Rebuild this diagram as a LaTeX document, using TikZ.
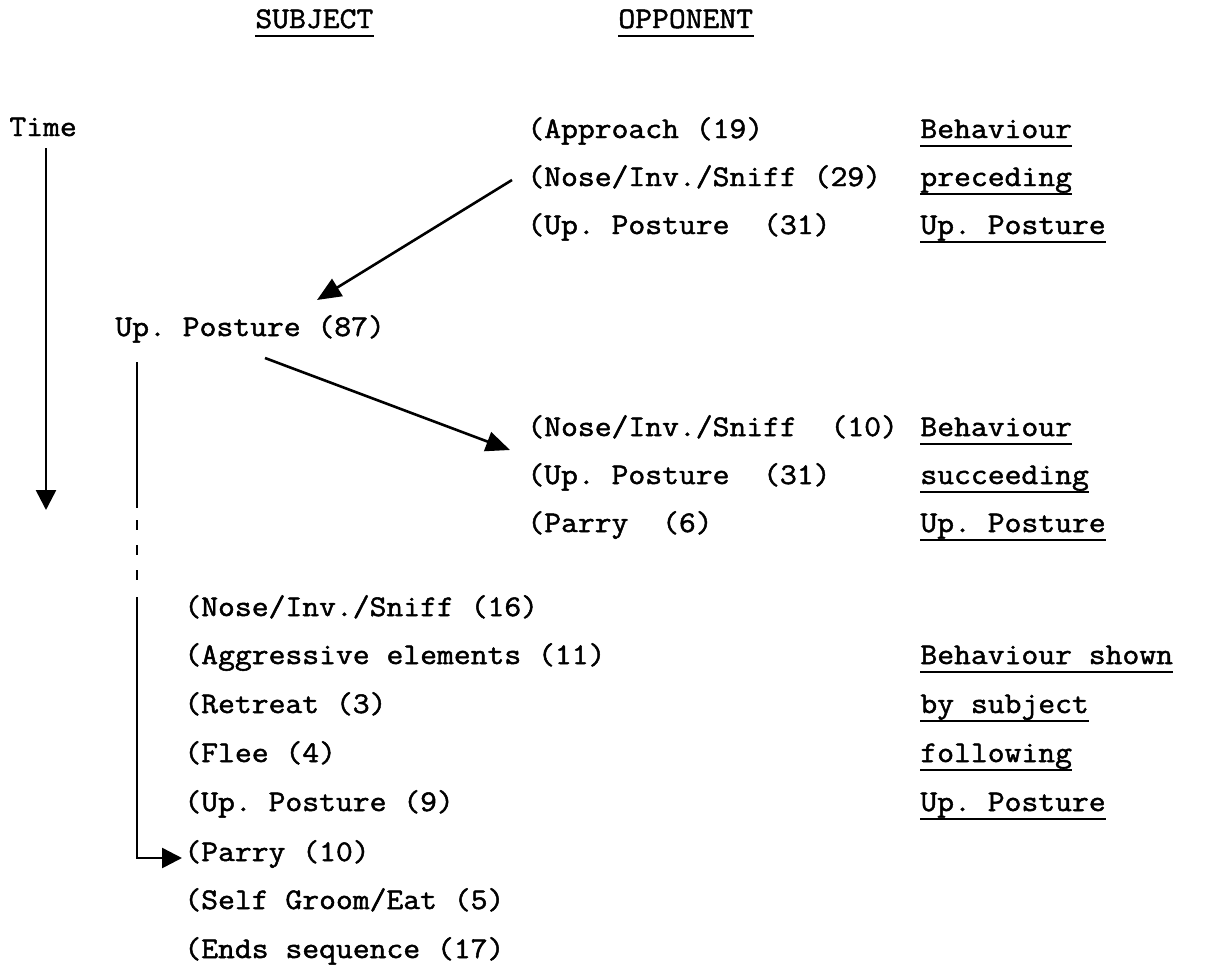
\documentclass[tikz,border=0pt]{standalone}
\usepackage{fontspec}
\usetikzlibrary{arrows.meta,calc}
\newfontfamily\tw{Latin Modern Mono}[FakeStretch=1.09,FakeBold=1.6]
\begin{document}
\begin{tikzpicture}[x=0.5pt,y=-0.5pt,
  txt/.style={font=\tw\fontsize{15pt}{17pt}\selectfont\frenchspacing, inner sep=0pt, anchor=base west},
  ul/.style={line width=1.3pt},
  conn/.style={line width=1.3pt},
  arr/.style={conn, -{Triangle[length=12pt,width=10pt]}},
  arrs/.style={conn, -{Triangle[length=10pt,width=10pt]}}]
\useasboundingbox[fill=white] (0,0) rectangle (1227,965);
% headings
\node[txt] (subj) at (255,28) {SUBJECT};
\node[txt] (opp) at (618,28) {OPPONENT};
\foreach \n in {subj,opp} \draw[ul] ([yshift=-4pt]\n.base west) -- ([yshift=-4pt]\n.base east);
% time
\node[txt] (time) at (9,136) {Time};
\coordinate (timeend) at (46,510);
\draw[arrs] ([shift={(37,12)}]time.base west) -- (timeend);
% preceding block
\node[txt] (appr) at (527,138) {(Approach (19)};
\node[txt] (nose29) at (527,186) {(Nose/Inv./Sniff (29)};
\node[txt] (up31a) at (527,234) {(Up. Posture~ (31)};
\node[txt] (r1a) at (920,138) {Behaviour};
\node[txt] (r1b) at (920,186) {preceding};
\node[txt] (r1c) at (920,234) {Up. Posture};
% subject
\node[txt] (up87) at (115,336) {Up. Posture (87)};
% succeeding block
\node[txt] (nose10) at (527,436) {(Nose/Inv./Sniff~ (10)};
\node[txt] (up31b) at (527,484) {(Up. Posture~ (31)};
\node[txt] (parry6) at (527,532) {(Parry~ (6)};
\node[txt] (r2a) at (920,436) {Behaviour};
\node[txt] (r2b) at (920,484) {succeeding};
\node[txt] (r2c) at (920,532) {Up. Posture};
% following block
\node[txt] (f1) at (184,616) {(Nose/Inv./Sniff (16)};
\node[txt] (f2) at (184,664) {(Aggressive elements (11)};
\node[txt] (f3) at (184,713) {(Retreat (3)};
\node[txt] (f4) at (184,762) {(Flee (4)};
\node[txt] (f5) at (184,811) {(Up. Posture (9)};
\node[txt] (f6) at (184,861) {(Parry (10)};
\node[txt] (f7) at (184,909) {(Self Groom/Eat (5)};
\node[txt] (f8) at (184,958) {(Ends sequence (17)};
\node[txt] (r3a) at (920,664) {Behaviour shown};
\node[txt] (r3b) at (920,713) {by subject};
\node[txt] (r3c) at (920,762) {following};
\node[txt] (r3d) at (920,811) {Up. Posture};
\foreach \n in {r1a,r1b,r1c,r2a,r2b,r2c,r3a,r3b,r3c,r3d}
  \draw[ul] ([yshift=-4pt]\n.base west) -- ([yshift=-4pt]\n.base east);
% connectors
\draw[arr] ([shift={(-15,-6)}]nose29.base west) -- ([shift={(202,-36)}]up87.base west);
\draw[arr] ([shift={(150,22)}]up87.base west) -- ([shift={(-17,14)}]nose10.base west);
\coordinate (v1) at (137,508);
\coordinate (v2) at (137,520);
\coordinate (v3) at (137,582);
\coordinate (v4) at (137,597);
\draw[conn] ([shift={(22,26)}]up87.base west) -- (v1);
\draw[conn, dash pattern=on 5pt off 7.5pt] (v2) -- (v3);
\draw[arrs] (v4) |- ([shift={(-2,-3)}]f6.base west);
\end{tikzpicture}
\end{document}
